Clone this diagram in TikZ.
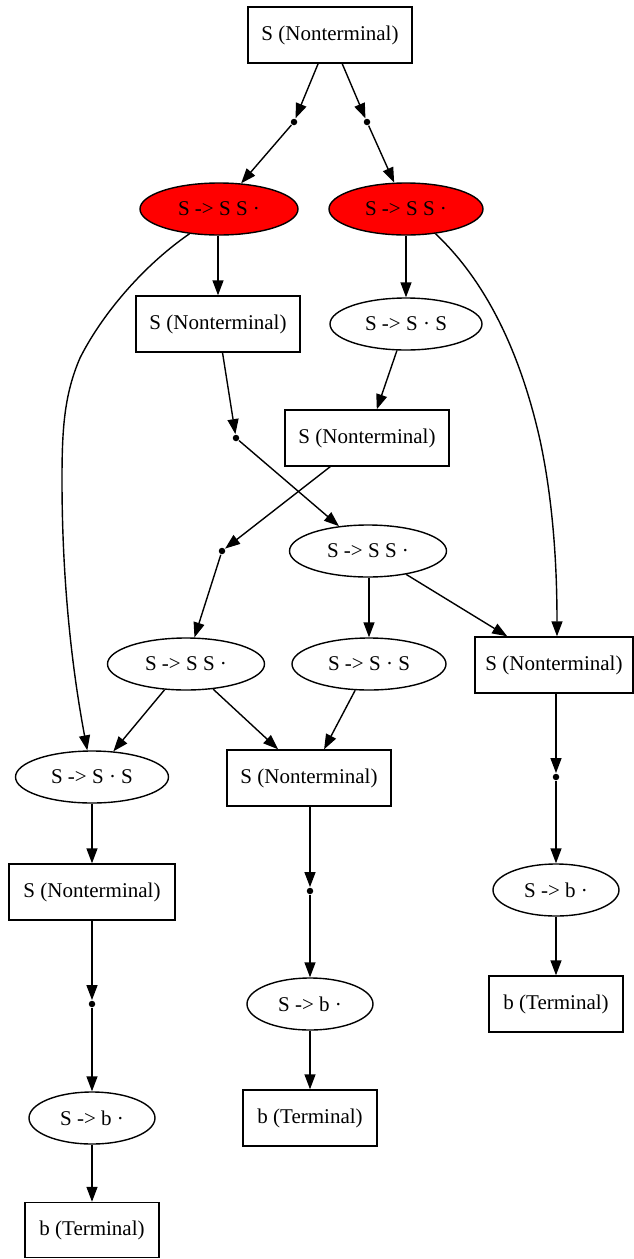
\documentclass[tikz,border=0pt]{standalone}
\usepackage{fontspec}
\setmainfont{Liberation Serif}
\usetikzlibrary{arrows.meta,shapes.geometric}
\begin{document}
\begin{tikzpicture}[x=1pt,y=-1pt, line width=1.4pt,
 every node/.style={font=\fontsize{21}{25}\selectfont, inner sep=0pt},
 box/.style={draw, rectangle, minimum width=164pt, minimum height=56pt},
 tbox/.style={draw, rectangle, minimum width=134pt, minimum height=56pt},
 ell/.style={draw, ellipse, minimum width=#1, minimum height=52pt},
 ell/.default=154pt,
 dot/.style={circle, fill, minimum size=6.5pt, inner sep=0pt},
 arr/.style={-{Triangle[length=15pt,width=11pt]}}
]
\useasboundingbox (0,0) rectangle (634,1259);
\definecolor{gvred}{RGB}{255,0,0}
% nodes
\node[box] (A) at (330,35) {S (Nonterminal)};
\node[dot] (d1) at (294,122) {};
\node[dot] (d2) at (367,122) {};
\node[ell=158pt, fill=gvred] (E1) at (219,209) {S -> S S ·};
\node[ell=154pt, fill=gvred] (E2) at (406,209) {S -> S S ·};
\node[box] (B1) at (218,324) {S (Nonterminal)};
\node[ell=152pt] (E3) at (406,324) {S -> S · S};
\node[dot] (d3) at (236,438) {};
\node[box] (B2) at (367,438) {S (Nonterminal)};
\node[dot] (d4) at (222,551) {};
\node[ell=157pt] (E4) at (368,551) {S -> S S ·};
\node[ell=157pt] (E5) at (186,664) {S -> S S ·};
\node[ell=154pt] (E6) at (369,664) {S -> S · S};
\node[box, minimum width=158pt] (B3) at (554,665) {S (Nonterminal)};
\node[ell=153pt] (E7) at (92,777) {S -> S · S};
\node[box] (B4) at (309,778) {S (Nonterminal)};
\node[box, minimum width=166pt] (B5) at (92,892) {S (Nonterminal)};
\node[dot] (d5) at (556,777) {};
\node[ell=126pt] (E8) at (556,890) {S -> b ·};
\node[tbox] (T1) at (556,1004) {b (Terminal)};
\node[dot] (d6) at (310,891) {};
\node[ell=126pt] (E9) at (310,1004) {S -> b ·};
\node[tbox] (T2) at (310,1118) {b (Terminal)};
\node[dot] (d7) at (92,1004) {};
\node[ell=126pt] (E10) at (92,1118) {S -> b ·};
\node[tbox, minimum height=55pt] (T3) at (92,1230) {b (Terminal)};
% edges
\draw[arr] (A) -- (d1);
\draw[arr] (d1) -- (E1);
\draw[arr] (A) -- (d2);
\draw[arr] (d2) -- (E2);
\draw[arr] (E1.south -| B1) -- (B1);
\draw[arr] (E1.220) .. controls (140,268) and (100,318) .. (80,358)
   .. controls (64,395) and (62,430) .. (62,480)
   .. controls (62,600) and (76,690) .. (E7.100);
\draw[arr] (E2) -- (E3);
\draw[arr] (E2.-40) .. controls (490,285) and (522,360) .. (540,440)
   .. controls (555,510) and (557,580) .. (B3.north -| 557,0);
\draw[arr] (E3) -- (B2);
\draw[arr] (B1) -- (d3);
\draw[arr] (d3) -- (E4);
\draw[arr] (B2) -- (d4);
\draw[arr] (d4) -- (E5);
\draw[arr] (E4.south -| E6) -- (E6);
\draw[arr] (E4) -- (B3);
\draw[arr] (E5) -- (E7);
\draw[arr] (E5) -- (B4);
\draw[arr] (E6) -- (B4);
\draw[arr] (E7) -- (B5);
\draw[arr] (B5) -- (d7);
\draw[arr] (d7) -- (E10);
\draw[arr] (E10) -- (T3);
\draw[arr] (B4.south -| d6) -- (d6);
\draw[arr] (d6) -- (E9);
\draw[arr] (E9) -- (T2);
\draw[arr] (B3.south -| d5) -- (d5);
\draw[arr] (d5) -- (E8);
\draw[arr] (E8) -- (T1);
\end{tikzpicture}
\end{document}
